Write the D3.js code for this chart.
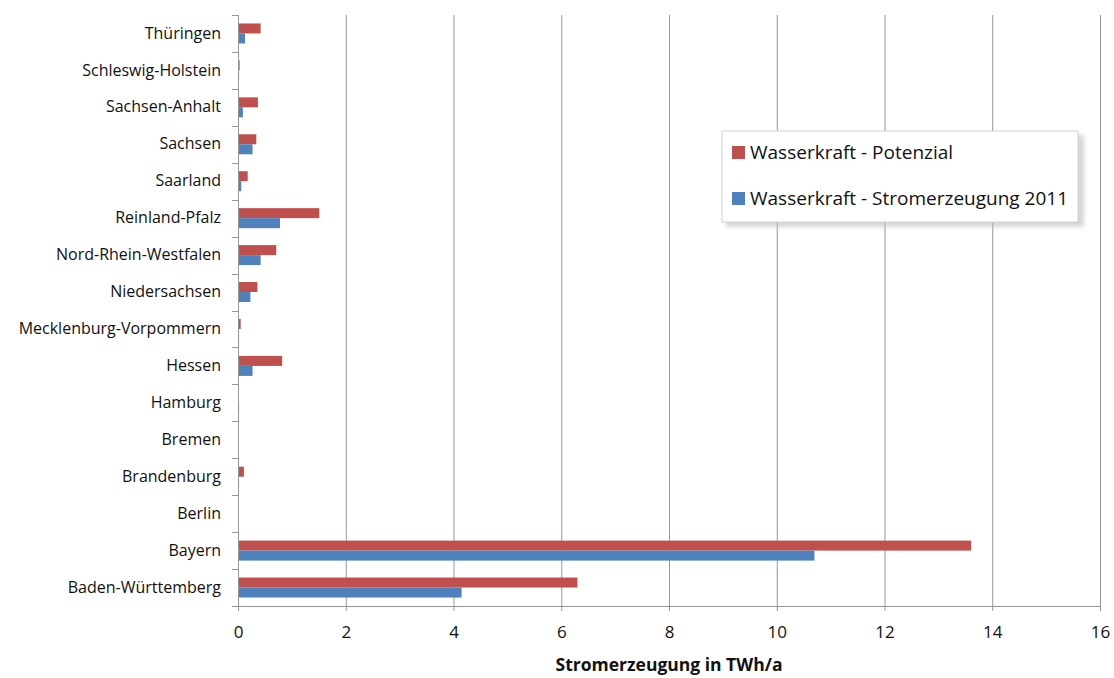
<!DOCTYPE html>
<html>
<head>
<meta charset="utf-8">
<script src="https://cdn.jsdelivr.net/npm/d3@7"></script>
<style>
  body { margin: 0; background: #fff; }
  text { font-family: "Open Sans", "Noto Sans", sans-serif; }
</style>
</head>
<body>
<svg></svg>
<script>
const WIDTH = 1114;
const HEIGHT = 678;

// categories from top to bottom
const states = [
  'Thüringen',
  'Schleswig-Holstein',
  'Sachsen-Anhalt',
  'Sachsen',
  'Saarland',
  'Reinland-Pfalz',
  'Nord-Rhein-Westfalen',
  'Niedersachsen',
  'Mecklenburg-Vorpommern',
  'Hessen',
  'Hamburg',
  'Bremen',
  'Brandenburg',
  'Berlin',
  'Bayern',
  'Baden-Württemberg',
];

// TWh/a
const potenzial = [0.42, 0.03, 0.37, 0.34, 0.18, 1.51, 0.71, 0.36, 0.05, 0.82, 0, 0, 0.11, 0, 13.61, 6.30];
const erzeugung = [0.13, 0.02, 0.09, 0.27, 0.06, 0.78, 0.42, 0.23, 0.02, 0.27, 0.02, 0, 0.02, 0, 10.70, 4.15];

const seriesNames = ['Wasserkraft - Potenzial', 'Wasserkraft - Stromerzeugung 2011'];
const colors = ['#C0504D', '#4F81BD'];
const xTicks = [0, 2, 4, 6, 8, 10, 12, 14, 16];

const margin = {top: 15, right: 14, bottom: 72, left: 238};
const innerW = WIDTH - margin.left - margin.right;
const innerH = HEIGHT - margin.top - margin.bottom;

const svg = d3.select('svg')
    .attr('width', WIDTH)
    .attr('height', HEIGHT);

const g = svg.append('g')
    .attr('transform', `translate(${margin.left},${margin.top})`);

const x = d3.scaleLinear().domain([0, 16]).range([0, innerW]);
const y = d3.scaleBand().domain(states).range([0, innerH]);
const sub = d3.scaleBand().domain([0, 1]).range([y.bandwidth() / 2 - 10, y.bandwidth() / 2 + 10]);

// vertical gridlines
g.selectAll('.grid')
  .data(xTicks.filter((d) => d > 0))
  .enter().append('line')
    .attr('x1', (d) => x(d) + 0.5)
    .attr('x2', (d) => x(d) + 0.5)
    .attr('y1', 0)
    .attr('y2', innerH)
    .attr('stroke', '#969696')
    .attr('stroke-width', 1);

// bars
const rows = states.map((s, i) => ({state: s, vals: [potenzial[i], erzeugung[i]]}));
const rowG = g.selectAll('.row')
  .data(rows)
  .enter().append('g')
    .attr('transform', (d) => `translate(0,${y(d.state)})`);
rowG.selectAll('rect')
  .data((d) => d.vals)
  .enter().append('rect')
    .attr('x', x(0))
    .attr('y', (d, i) => sub(i))
    .attr('width', (d) => x(d) - x(0))
    .attr('height', sub.bandwidth())
    .attr('fill', (d, i) => colors[i]);

// y axis
const yAxis = g.append('g')
    .call(d3.axisLeft(y).tickSize(0).tickPadding(17));
yAxis.select('.domain').remove();
yAxis.selectAll('text')
    .attr('font-size', 16)
    .attr('fill', '#111')
    .style('font-family', '"Open Sans", sans-serif');
// category separator ticks
g.selectAll('.ysep')
  .data(d3.range(states.length + 1))
  .enter().append('line')
    .attr('x1', -6)
    .attr('x2', 0)
    .attr('y1', (d) => Math.round(d * y.step()) + 0.5)
    .attr('y2', (d) => Math.round(d * y.step()) + 0.5)
    .attr('stroke', '#969696');
g.append('line')
    .attr('x1', 0.5).attr('x2', 0.5)
    .attr('y1', 0).attr('y2', innerH)
    .attr('stroke', '#969696');

// x axis
const xAxis = g.append('g')
    .attr('transform', `translate(0,${innerH})`)
    .call(d3.axisBottom(x).tickValues(xTicks).tickSize(5).tickPadding(15).tickFormat(d3.format('d')));
xAxis.select('.domain').attr('stroke', '#969696');
xAxis.selectAll('line').attr('stroke', '#969696');
xAxis.selectAll('text')
    .attr('font-size', 17)
    .attr('fill', '#111')
    .style('font-family', '"Open Sans", sans-serif');

g.append('text')
    .attr('x', innerW / 2)
    .attr('y', innerH + 65)
    .attr('text-anchor', 'middle')
    .attr('font-size', 17.5)
    .attr('font-weight', 'bold')
    .attr('fill', '#111')
    .text('Stromerzeugung in TWh/a');

// legend
const lg = svg.append('g').attr('transform', 'translate(722,131)');
lg.append('rect')
    .attr('x', 4).attr('y', 4)
    .attr('width', 358).attr('height', 92)
    .attr('fill', '#bbb')
    .attr('opacity', 0.6)
    .style('filter', 'blur(2px)');
lg.append('rect')
    .attr('width', 356).attr('height', 91)
    .attr('fill', '#fff')
    .attr('stroke', '#d0d0d0');
const items = lg.selectAll('.item')
  .data(seriesNames)
  .enter().append('g')
    .attr('transform', (d, i) => `translate(10,${21 + i * 46})`);
items.append('rect')
    .attr('x', 0).attr('y', -6)
    .attr('width', 13).attr('height', 13)
    .attr('fill', (d, i) => colors[i]);
items.append('text')
    .attr('x', 18)
    .attr('y', 0)
    .attr('dy', '0.35em')
    .attr('font-size', 19)
    .attr('fill', '#111')
    .text((d) => d);
</script>
</body>
</html>
